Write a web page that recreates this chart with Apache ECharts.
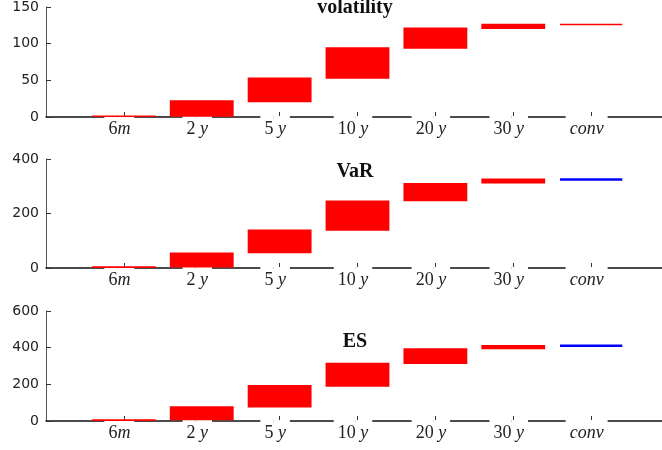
<!DOCTYPE html>
<html>
<head>
<meta charset="utf-8">
<script src="https://cdn.jsdelivr.net/npm/echarts@6/dist/echarts.min.js"></script>
<style>
  html, body { margin: 0; padding: 0; background: #fff; }
  #chart { width: 662px; height: 450px; }
</style>
</head>
<body>
<div id="chart"></div>
<script>
'use strict';

// maturity buckets (x positions 1..7)
var categories = ['6m', '2y', '5y', '10y', '20y', '30y', 'conv'];

// floating bars: low / high per bucket
var volLow = [0, 0.5, 20, 52, 93, 120];
var volHigh = [2, 23, 54, 95, 122, 127];
var volConv = 126;

var varLow = [0, 2, 54, 137, 245, 310];
var varHigh = [6, 57, 141, 248, 312, 328];
var varConv = 325;

var esLow = [0, 4, 73, 187, 311, 391];
var esHigh = [9, 80, 196, 318, 397, 415];
var esConv = 411;

var titles = ['volatility', 'VaR', 'ES'];
var yMax = [150, 400, 600];
var yStep = [50, 200, 200];
var convColors = ['#ff0000', '#0000ff', '#0000ff'];
var convWidth = [1.5, 2.5, 2.5];

var chart = echarts.init(document.getElementById('chart'));

var gridTops = [7, 159, 311];
var gridHeights = [110, 109, 110];
var titleTops = [-7, 157, 327];

// number upright, unit italic; white boxes cut the axis line, label sits a bit left of its tick
function labelText(v) {
    var c = categories[v - 1];
    if (!c) return '';
    if (c === 'conv') return '{c|conv}{s|}';
    var num = c.slice(0, -1);
    var unit = c.slice(-1);
    return '{n|' + num + '}{i|' + (unit === 'm' ? unit : ' ' + unit) + '}{s|}';
}

var grids = [], xAxes = [], yAxes = [], series = [], titleList = [];

var lows = [volLow, varLow, esLow];
var highs = [volHigh, varHigh, esHigh];
var convs = [volConv, varConv, esConv];

var serif = 'Liberation Serif';

for (var k = 0; k < 3; k++) {
    grids.push({ left: 46, top: gridTops[k], width: 623, height: gridHeights[k], containLabel: false, outerBoundsMode: 'none' });
    titleList.push({
        text: titles[k],
        left: 350,
        top: titleTops[k],
        textAlign: 'center',
        textStyle: { fontFamily: serif, fontWeight: 'bold', fontSize: 20, color: '#111' }
    });
    xAxes.push({
        type: 'value', gridIndex: k, min: 0, max: 8, interval: 1,
        splitLine: { show: false },
        axisLine: { lineStyle: { color: '#111', width: 1.5 } },
        axisTick: { inside: true, length: 5, lineStyle: { color: '#333' } },
        axisLabel: {
            showMinLabel: false, showMaxLabel: false,
            margin: -1,
            formatter: labelText,
            rich: {
                n: { fontFamily: serif, fontSize: 18, color: '#222', backgroundColor: '#fff', padding: [4, 0, 3, 4] },
                i: { fontFamily: serif, fontStyle: 'italic', fontSize: 18, color: '#222', backgroundColor: '#fff', padding: [4, 4, 3, 0] },
                c: { fontFamily: serif, fontStyle: 'italic', fontSize: 18, color: '#222', backgroundColor: '#fff', padding: [4, 4, 3, 4] },
                s: { width: 9 }
            }
        }
    });
    yAxes.push({
        type: 'value', gridIndex: k, min: 0, max: yMax[k], interval: yStep[k],
        splitLine: { show: false },
        axisLine: { show: true, lineStyle: { color: '#555', width: 1 } },
        axisTick: { show: true, inside: true, length: 5, lineStyle: { color: '#333' } },
        axisLabel: { margin: 7, fontFamily: 'DejaVu Sans', fontSize: 14, color: '#222' }
    });

    var barData = lows[k].map(function (lo, i) { return [i + 1, lo, highs[k][i]]; });
    series.push({
        type: 'custom', xAxisIndex: k, yAxisIndex: k,
        data: barData,
        encode: { x: 0, y: [1, 2] },
        renderItem: function (params, api) {
            var x = api.value(0);
            var p0 = api.coord([x - 0.41, api.value(2)]);
            var p1 = api.coord([x + 0.41, api.value(1)]);
            return {
                type: 'rect',
                shape: { x: p0[0], y: p0[1], width: p1[0] - p0[0], height: Math.max(p1[1] - p0[1], 1.5) },
                style: { fill: '#ff0000' }
            };
        }
    });
    (function (col, w) {
        series.push({
            type: 'custom', xAxisIndex: k, yAxisIndex: k,
            data: [[7, convs[k]]],
            renderItem: function (params, api) {
                var x = api.value(0);
                var a = api.coord([x - 0.4, api.value(1)]);
                var b = api.coord([x + 0.4, api.value(1)]);
                return {
                    type: 'line',
                    shape: { x1: a[0], y1: a[1], x2: b[0], y2: b[1] },
                    style: { stroke: col, lineWidth: w }
                };
            }
        });
    })(convColors[k], convWidth[k]);
}

chart.setOption({
    animation: false,
    title: titleList,
    grid: grids,
    xAxis: xAxes,
    yAxis: yAxes,
    series: series
});
</script>
</body>
</html>
